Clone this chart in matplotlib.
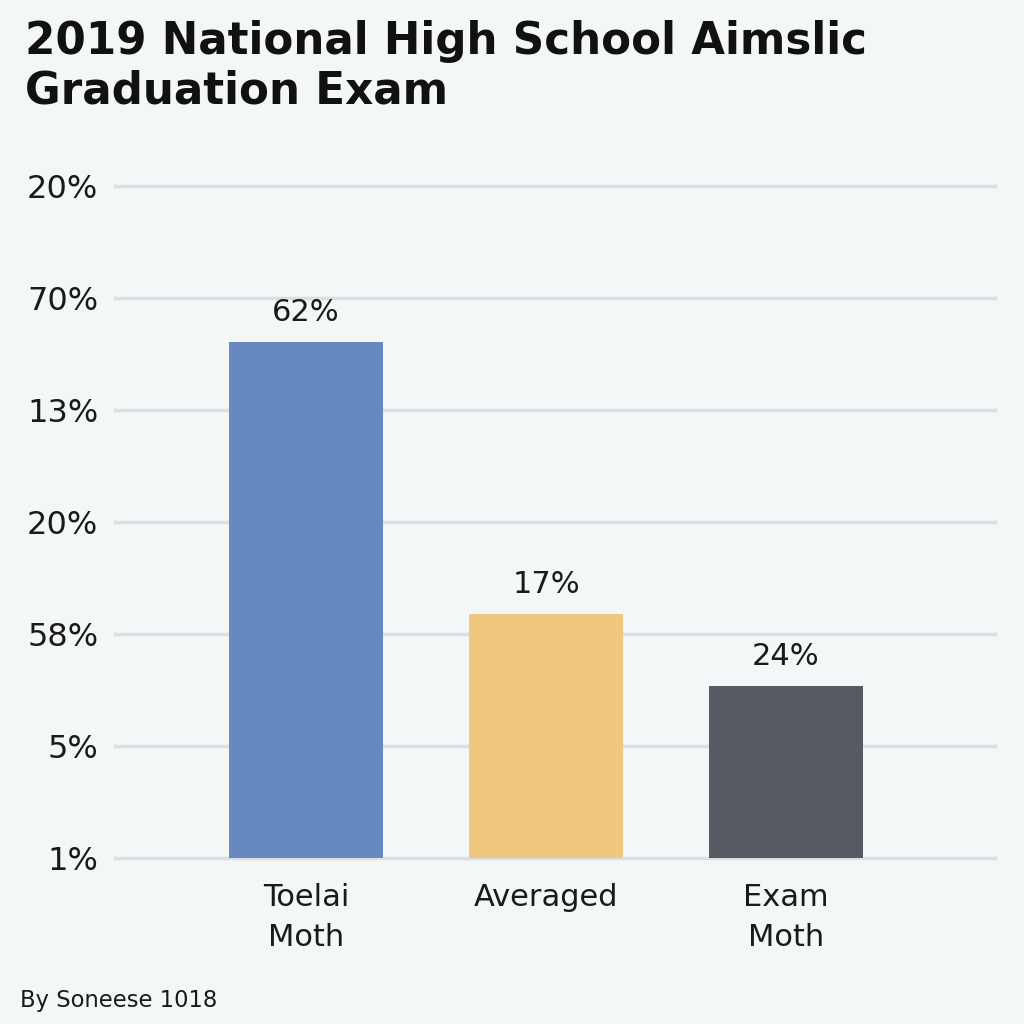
import matplotlib.pyplot as plt

# data
categories = ["Toelai\nMoth", "Averaged", "Exam\nMoth"]
bar_heights = [4.61, 2.18, 1.54]          # in gridline units
bar_labels = ["62%", "17%", "24%"]
bar_colors = ["#6689c0", "#f0c77e", "#565a63"]
ytick_pos = [0, 1, 2, 3, 4, 5, 6]
ytick_labels = ["1%", "5%", "58%", "20%", "13%", "70%", "20%"]

bg = "#f4f7f7"

fig = plt.figure(figsize=(10.24, 10.24), dpi=100, facecolor=bg)
ax = fig.add_axes([115 / 1024, 1 - 858 / 1024, 880 / 1024, 6.1 * 112 / 1024])
ax.set_facecolor(bg)

x = list(range(len(categories)))
ax.bar(x, bar_heights, width=0.64, color=bar_colors, zorder=3)

for xi, h, lab in zip(x, bar_heights, bar_labels):
    ax.text(xi, h + 0.13, lab, ha="center", va="bottom", fontsize=22,
            color="#1a1a1a", zorder=4)

ax.set_xlim(-(306 - 115) / 240, (995 - 306) / 240)
ax.set_ylim(0, 6.1)

ax.set_yticks(ytick_pos)
ax.set_yticklabels(ytick_labels, fontsize=23, color="#1a1a1a")
ax.set_xticks(x)
ax.set_xticklabels(categories, fontsize=22, color="#1a1a1a", linespacing=1.5)
ax.tick_params(axis="y", length=0, pad=12)
ax.tick_params(axis="x", length=0, pad=18)

ax.grid(axis="y", color="#dcdfe1", linewidth=2.5, zorder=0)
for gl in ax.get_ygridlines():
    gl.set_clip_on(False)
for s in ax.spines.values():
    s.set_visible(False)

fig.text(25 / 1024, 1 - 20 / 1024, "2019 National High School Aimslic\nGraduation Exam",
         ha="left", va="top", fontsize=31.4, fontweight="bold", color="#111111",
         linespacing=1.2)
fig.text(20 / 1024, 1 - 1000 / 1024, "By Soneese 1018", ha="left", va="center",
         fontsize=16.3, color="#1a1a1a")

fig.savefig("out.png", dpi=100, facecolor=bg)
